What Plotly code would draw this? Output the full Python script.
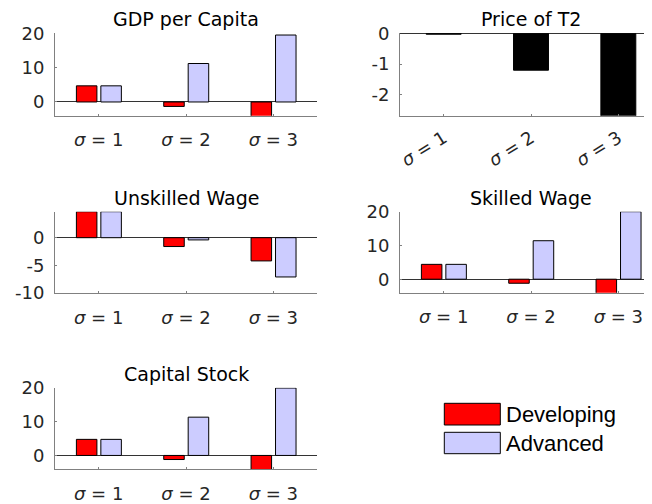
import plotly.graph_objects as go

# ---------------- data ----------------
categories = [1, 2, 3]
x_tick_labels = ["<i>σ</i> = 1", "<i>σ</i> = 2", "<i>σ</i> = 3"]
series_names = ["Developing", "Advanced"]
panel_titles = ["GDP per Capita", "Price of T2", "Unskilled Wage", "Skilled Wage", "Capital Stock"]

gdp_dev = [4.7, -1.3, -4.5]
gdp_adv = [4.7, 11.2, 19.5]
price_t2 = [-0.03, -1.2, -2.8]
unsk_dev = [4.7, -1.6, -4.2]
unsk_adv = [4.7, -0.4, -7.1]
sk_dev = [4.4, -1.2, -4.5]
sk_adv = [4.4, 11.4, 20.0]
cap_dev = [4.75, -1.2, -4.5]
cap_adv = [4.75, 11.3, 19.9]

ytick_vals_20 = [0, 10, 20]
ytick_text_20 = ["0", "10", "20"]
ytick_vals_price = [-2, -1, 0]
ytick_text_price = ["-2", "-1", "0"]
ytick_vals_unsk = [-10, -5, 0]
ytick_text_unsk = ["-10", "-5", "0"]

# ---------------- style ----------------
W, H = 652, 504
OX, OY = 8, 8          # page body margin offset of the figure in the window
AX_FONT = "DejaVu Sans, Liberation Sans, sans-serif"
LEG_FONT = "Liberation Sans, Arial, sans-serif"
RED = "#FF0000"
BLUE = "#CCCCFF"
AXC = "#808080"
TXT = "#262626"
BAR_W = 0.235
OFF_DEV = -0.255
OFF_ADV = 0.025


def px(X):
    return (X - OX) / W


def py(Y):
    return 1 - (Y - OY) / H


def xd(a, b):
    return [max(px(a), 0.0), min(px(b), 1.0)]


def yd(top, bottom):
    return [py(bottom), py(top)]


fig = go.Figure()


def add_pair(dev, adv, n):
    xa = "x" if n == 1 else f"x{n}"
    ya = "y" if n == 1 else f"y{n}"
    fig.add_trace(go.Bar(x=categories, y=dev, name=series_names[0], width=BAR_W, offset=OFF_DEV,
                         marker=dict(color=RED, line=dict(color="black", width=1)),
                         xaxis=xa, yaxis=ya, showlegend=False))
    fig.add_trace(go.Bar(x=categories, y=adv, name=series_names[1], width=BAR_W, offset=OFF_ADV,
                         marker=dict(color=BLUE, line=dict(color="black", width=1)),
                         xaxis=xa, yaxis=ya, showlegend=False))


add_pair(gdp_dev, gdp_adv, 1)
fig.add_trace(go.Bar(x=categories, y=price_t2, width=0.4, offset=-0.2,
                     marker=dict(color="black", line=dict(color="black", width=1)),
                     xaxis="x2", yaxis="y2", showlegend=False))
add_pair(unsk_dev, unsk_adv, 3)
add_pair(sk_dev, sk_adv, 4)
add_pair(cap_dev, cap_adv, 5)

# the right-hand axes run past the window edge; show only the visible part
ppu = (317 - 55) / 3.0
right_edge = OX + W
right_range = 0.5 + (right_edge - 400) / ppu

common_x = dict(showline=True, linecolor=AXC, linewidth=1, ticks="inside", ticklen=2,
                tickcolor=AXC, tickvals=categories, ticktext=x_tick_labels,
                showgrid=False, zeroline=False, ticklabelstandoff=8, automargin=False,
                tickfont=dict(family=AX_FONT, size=18, color=TXT), fixedrange=True)
common_y = dict(showline=True, linecolor=AXC, linewidth=1, ticks="inside", ticklen=2,
                tickcolor=AXC, showgrid=False, zeroline=True, zerolinecolor="#333333",
                zerolinewidth=1, ticklabelstandoff=6, automargin=False,
                tickfont=dict(family=AX_FONT, size=18, color=TXT), fixedrange=True)

layout = dict(
    width=W, height=H, margin=dict(l=0, r=0, t=0, b=0, pad=0, autoexpand=False),
    paper_bgcolor="white", plot_bgcolor="white", barmode="overlay",
    showlegend=False,
    xaxis=dict(common_x, domain=xd(55, 317), range=[0.5, 3.5], anchor="y"),
    yaxis=dict(common_y, domain=yd(33.3, 115.7), range=[-4, 20], tickvals=ytick_vals_20,
               ticktext=ytick_text_20, anchor="x"),
    xaxis2=dict(common_x, domain=xd(400, right_edge), range=[0.5, right_range], anchor="y2",
                tickangle=-32, ticklabelstandoff=4),
    yaxis2=dict(common_y, domain=yd(33.3, 115.7), range=[-2.68, 0], tickvals=ytick_vals_price,
                ticktext=ytick_text_price, anchor="x2"),
    xaxis3=dict(common_x, domain=xd(55, 317), range=[0.5, 3.5], anchor="y3"),
    yaxis3=dict(common_y, domain=yd(211.7, 293), range=[-10, 4.7], tickvals=ytick_vals_unsk,
                ticktext=ytick_text_unsk, anchor="x3"),
    xaxis4=dict(common_x, domain=xd(400, right_edge), range=[0.5, right_range], anchor="y4"),
    yaxis4=dict(common_y, domain=yd(211.7, 292.7), range=[-4, 20], tickvals=ytick_vals_20,
                ticktext=ytick_text_20, anchor="x4"),
    xaxis5=dict(common_x, domain=xd(55, 317), range=[0.5, 3.5], anchor="y5"),
    yaxis5=dict(common_y, domain=yd(387.7, 469), range=[-4, 20], tickvals=ytick_vals_20,
                ticktext=ytick_text_20, anchor="x5"),
    # hidden axes behind the legend: only faint tick marks remain visible
    xaxis6=dict(domain=xd(400, right_edge), range=[0.5, right_range], anchor="y6", showline=False,
                showgrid=False, zeroline=False, ticks="inside", ticklen=2, tickcolor="#bbbbbb",
                tickvals=[c + OFF_DEV + BAR_W / 2 for c in categories] +
                         [c + OFF_ADV + BAR_W / 2 for c in categories],
                showticklabels=False, fixedrange=True),
    yaxis6=dict(domain=yd(387.7, 469.3), range=[0, 1], anchor="x6", visible=False, fixedrange=True),
)
fig.update_layout(**layout)

# panel titles
title_specs = [("x", 33.3), ("x2", 33.3), ("x3", 211.7), ("x4", 211.7), ("x5", 387.7)]
for title, (xa, top) in zip(panel_titles, title_specs):
    fig.add_annotation(text=title, xref=xa, x=2, yref="paper", y=py(top),
                       xanchor="center", yanchor="bottom", yshift=1, showarrow=False,
                       font=dict(family=AX_FONT, size=19, color="black"))

# legend drawn as boxes + text
legend_rows = [(RED, 403.3, 425.0), (BLUE, 432.3, 453.7)]
for name, (col, t, b) in zip(series_names, legend_rows):
    fig.add_shape(type="rect", xref="paper", yref="paper", x0=px(444.3), x1=px(500.3),
                  y0=py(b), y1=py(t), fillcolor=col, line=dict(color="black", width=1))
    fig.add_annotation(text=name, xref="paper", yref="paper", x=px(504), y=py((t + b) / 2),
                       xanchor="left", yanchor="middle", showarrow=False,
                       font=dict(family=LEG_FONT, size=22, color="black"))

fig.write_html("out.html")
